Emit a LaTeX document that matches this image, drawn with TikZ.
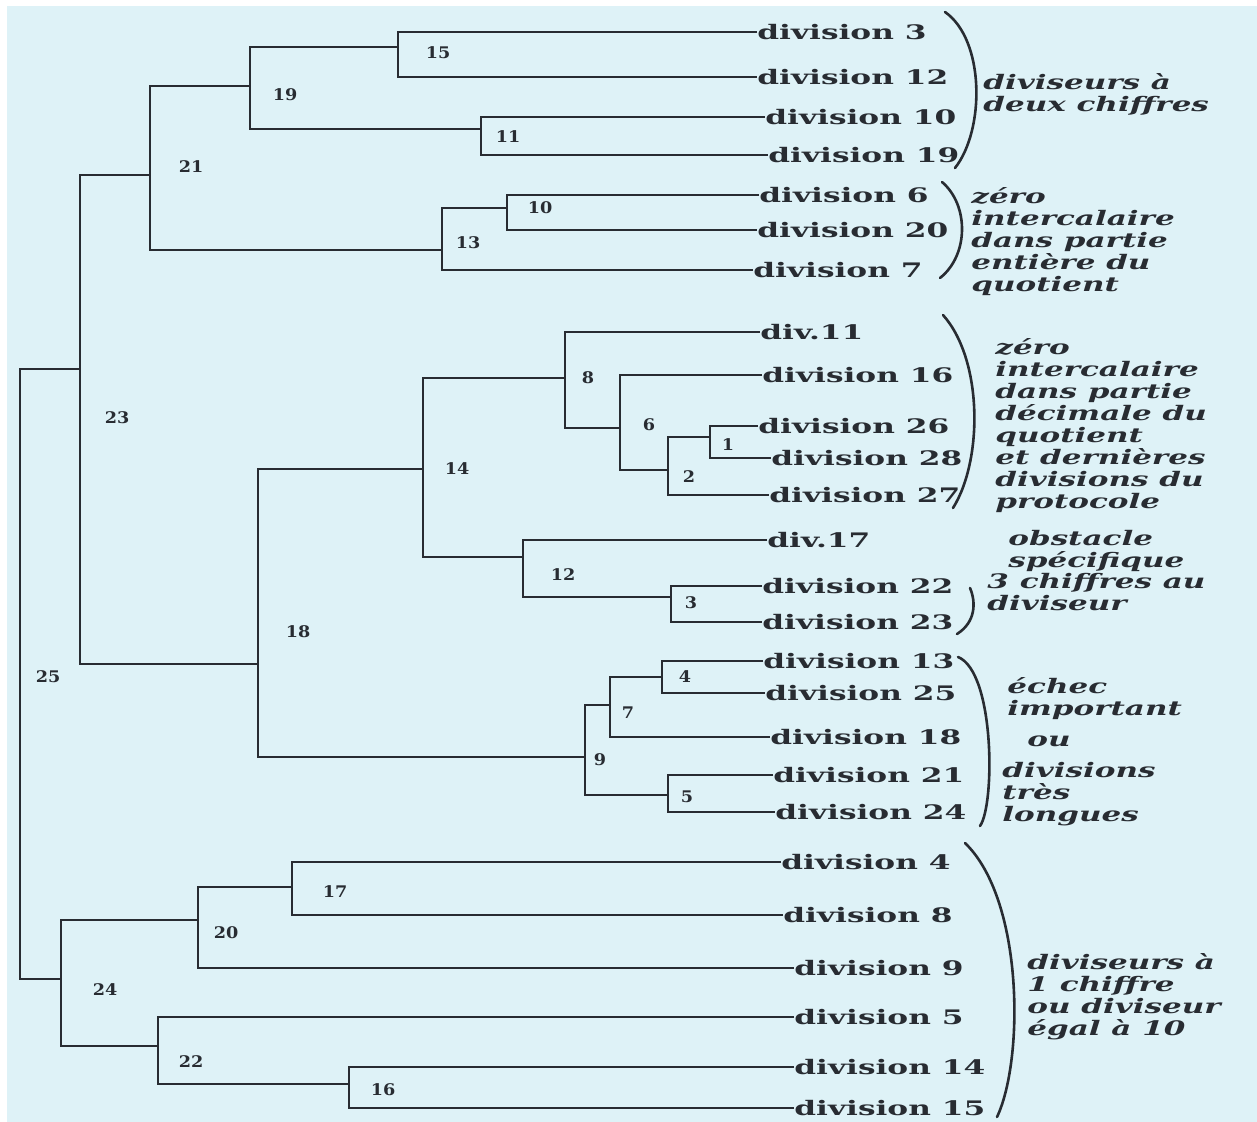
\documentclass[tikz,border=0pt]{standalone}
\usepackage{fontspec}
\usepackage{tikz}
\setmainfont{DejaVu Serif}
\newfontfamily\leaffont[FakeStretch=1.56]{DejaVu Serif}
\newfontfamily\notefont[FakeStretch=1.55]{DejaVu Serif}
\newfontfamily\numfont[FakeStretch=1.1]{DejaVu Serif}
\definecolor{paper}{RGB}{222,242,247}
\definecolor{ink}{RGB}{40,44,50}
\pgfdeclarelayer{bg}
\pgfsetlayers{bg,main}
\tikzset{
    leaf/.style={anchor=west, inner sep=0pt, text=ink, font=\leaffont\bfseries\fontsize{10}{12}\selectfont},
    num/.style={inner sep=0pt, text=ink, font=\numfont\bfseries\fontsize{8}{10}\selectfont},
    note/.style={anchor=north west, inner sep=0pt, align=left, text=ink, font=\notefont\bfseries\itshape\fontsize{10}{11}\selectfont},
    branch/.style={draw=ink, line width=1.2pt},
    brace/.style={draw=ink, line width=1.3pt, line cap=round}
}

\begin{document}
\begin{tikzpicture}[x=0.5pt, y=-0.5pt]
        \useasboundingbox (0,0) rectangle (1257,1122);
        % leaves
        \node (d3) [leaf] at (757,32) {division 3};
        \node (d12) [leaf] at (757,77) {division 12};
        \node (d10) [leaf] at (765,117) {division 10};
        \node (d19) [leaf] at (768,155) {division 19};
        \node (d6) [leaf] at (759,195) {division 6};
        \node (d20) [leaf] at (757,230) {division 20};
        \node (d7) [leaf] at (753,270) {division 7};
        \node (d11) [leaf] at (760,332) {div.11};
        \node (d16) [leaf] at (762,375) {division 16};
        \node (d26) [leaf] at (758,426) {division 26};
        \node (d28) [leaf] at (771,458) {division 28};
        \node (d27) [leaf] at (769,495) {division 27};
        \node (d17) [leaf] at (767,540) {div.17};
        \node (d22) [leaf] at (762,586) {division 22};
        \node (d23) [leaf] at (762,622) {division 23};
        \node (d13) [leaf] at (763,661) {division 13};
        \node (d25) [leaf] at (765,693) {division 25};
        \node (d18) [leaf] at (770,737) {division 18};
        \node (d21) [leaf] at (773,775) {division 21};
        \node (d24) [leaf] at (775,812) {division 24};
        \node (d4) [leaf] at (781,862) {division 4};
        \node (d8) [leaf] at (783,915) {division 8};
        \node (d9) [leaf] at (794,968) {division 9};
        \node (d5) [leaf] at (794,1017) {division 5};
        \node (d14) [leaf] at (794,1067) {division 14};
        \node (d15) [leaf] at (794,1108) {division 15};
        % junctions
        \coordinate (c1) at (710,437);
        \coordinate (c2) at (668,470);
        \coordinate (c3) at (671,597);
        \coordinate (c4) at (662,677);
        \coordinate (c5) at (668,795);
        \coordinate (c6) at (620,428);
        \coordinate (c7) at (610,705);
        \coordinate (c8) at (565,378);
        \coordinate (c9) at (585,757);
        \coordinate (c10) at (507,208);
        \coordinate (c11) at (481,129);
        \coordinate (c12) at (523,557);
        \coordinate (c13) at (442,250);
        \coordinate (c14) at (423,469);
        \coordinate (c15) at (398,47);
        \coordinate (c16) at (349,1084);
        \coordinate (c17) at (292,887);
        \coordinate (c18) at (258,664);
        \coordinate (c19) at (250,86);
        \coordinate (c20) at (198,920);
        \coordinate (c21) at (150,175);
        \coordinate (c22) at (158,1046);
        \coordinate (c23) at (80,369);
        \coordinate (c24) at (61,979);
        \coordinate (c25) at (20,670);
        % step numbers
        \node (n1) [num] at (728,445) {1};
        \node (n2) [num] at (689,477) {2};
        \node (n3) [num] at (691,603) {3};
        \node (n4) [num] at (685,677) {4};
        \node (n5) [num] at (687,797) {5};
        \node (n6) [num] at (649,425) {6};
        \node (n7) [num] at (628,713) {7};
        \node (n8) [num] at (588,378) {8};
        \node (n9) [num] at (600,760) {9};
        \node (n10) [num] at (540,208) {10};
        \node (n11) [num] at (508,137) {11};
        \node (n12) [num] at (563,575) {12};
        \node (n13) [num] at (468,243) {13};
        \node (n14) [num] at (457,469) {14};
        \node (n15) [num] at (438,53) {15};
        \node (n16) [num] at (383,1090) {16};
        \node (n17) [num] at (335,892) {17};
        \node (n18) [num] at (298,632) {18};
        \node (n19) [num] at (285,95) {19};
        \node (n20) [num] at (226,933) {20};
        \node (n21) [num] at (191,167) {21};
        \node (n22) [num] at (191,1062) {22};
        \node (n23) [num] at (117,418) {23};
        \node (n24) [num] at (105,990) {24};
        \node (n25) [num] at (48,677) {25};
        % groups
        \node (g1) [note] at (983,73) {diviseurs à\\deux chiffres};
        \node (g2) [note] at (971,187) {zéro\\intercalaire\\dans partie\\entière du\\quotient};
        \node (g3) [note] at (995,338) {zéro\\intercalaire\\dans partie\\décimale du\\quotient\\et dernières\\divisions du\\protocole};
        \node (g4) [note] at (1008,530) {obstacle\\spécifique};
        \node (g5) [note] at (987,573) {3 chiffres au\\diviseur};
        \node (g6) [note] at (1007,677) {échec\\important};
        \node (g7) [note] at (1027,735) {ou};
        \node (g8) [note] at (1002,762) {divisions\\très\\longues};
        \node (g9) [note] at (1027,953) {diviseurs à\\1 chiffre\\ou diviseur\\égal à 10};
        \begin{pgfonlayer}{bg}
                \fill[paper] (7,6) rectangle (1257,1122);
                \draw[branch] (d3.west) -| (c15) |- (d12.west);
                \draw[branch] (d10.west) -| (c11) |- (d19.west);
                \draw[branch] (c15) -| (c19) |- (c11);
                \draw[branch] (d6.west) -| (c10) |- (d20.west);
                \draw[branch] (c10) -| (c13) |- (d7.west);
                \draw[branch] (c19) -| (c21) |- (c13);
                \draw[branch] (d26.west) -| (c1) |- (d28.west);
                \draw[branch] (c1) -| (c2) |- (d27.west);
                \draw[branch] (d16.west) -| (c6) |- (c2);
                \draw[branch] (d11.west) -| (c8) |- (c6);
                \draw[branch] (d22.west) -| (c3) |- (d23.west);
                \draw[branch] (d17.west) -| (c12) |- (c3);
                \draw[branch] (c8) -| (c14) |- (c12);
                \draw[branch] (d13.west) -| (c4) |- (d25.west);
                \draw[branch] (c4) -| (c7) |- (d18.west);
                \draw[branch] (d21.west) -| (c5) |- (d24.west);
                \draw[branch] (c7) -| (c9) |- (c5);
                \draw[branch] (c14) -| (c18) |- (c9);
                \draw[branch] (c21) -| (c23) |- (c18);
                \draw[branch] (d4.west) -| (c17) |- (d8.west);
                \draw[branch] (c17) -| (c20) |- (d9.west);
                \draw[branch] (d14.west) -| (c16) |- (d15.west);
                \draw[branch] (d5.west) -| (c22) |- (c16);
                \draw[branch] (c20) -| (c24) |- (c22);
                \draw[branch] (c23) -| (c25) |- (c24);
                % brackets
                \draw[brace] (945,12) .. controls (985,40) and (985,130) .. (955,168);
                \draw[brace] (942,182) .. controls (969,205) and (969,255) .. (940,278);
                \draw[brace] (943,315) .. controls (983,360) and (983,460) .. (953,508);
                \draw[brace] (970,588) .. controls (976,602) and (976,622) .. (957,634);
                \draw[brace] (958,657) .. controls (995,672) and (995,805) .. (980,826);
                \draw[brace] (965,843) .. controls (1024,900) and (1024,1060) .. (997,1117);
        \end{pgfonlayer}
\end{tikzpicture}
\end{document}
